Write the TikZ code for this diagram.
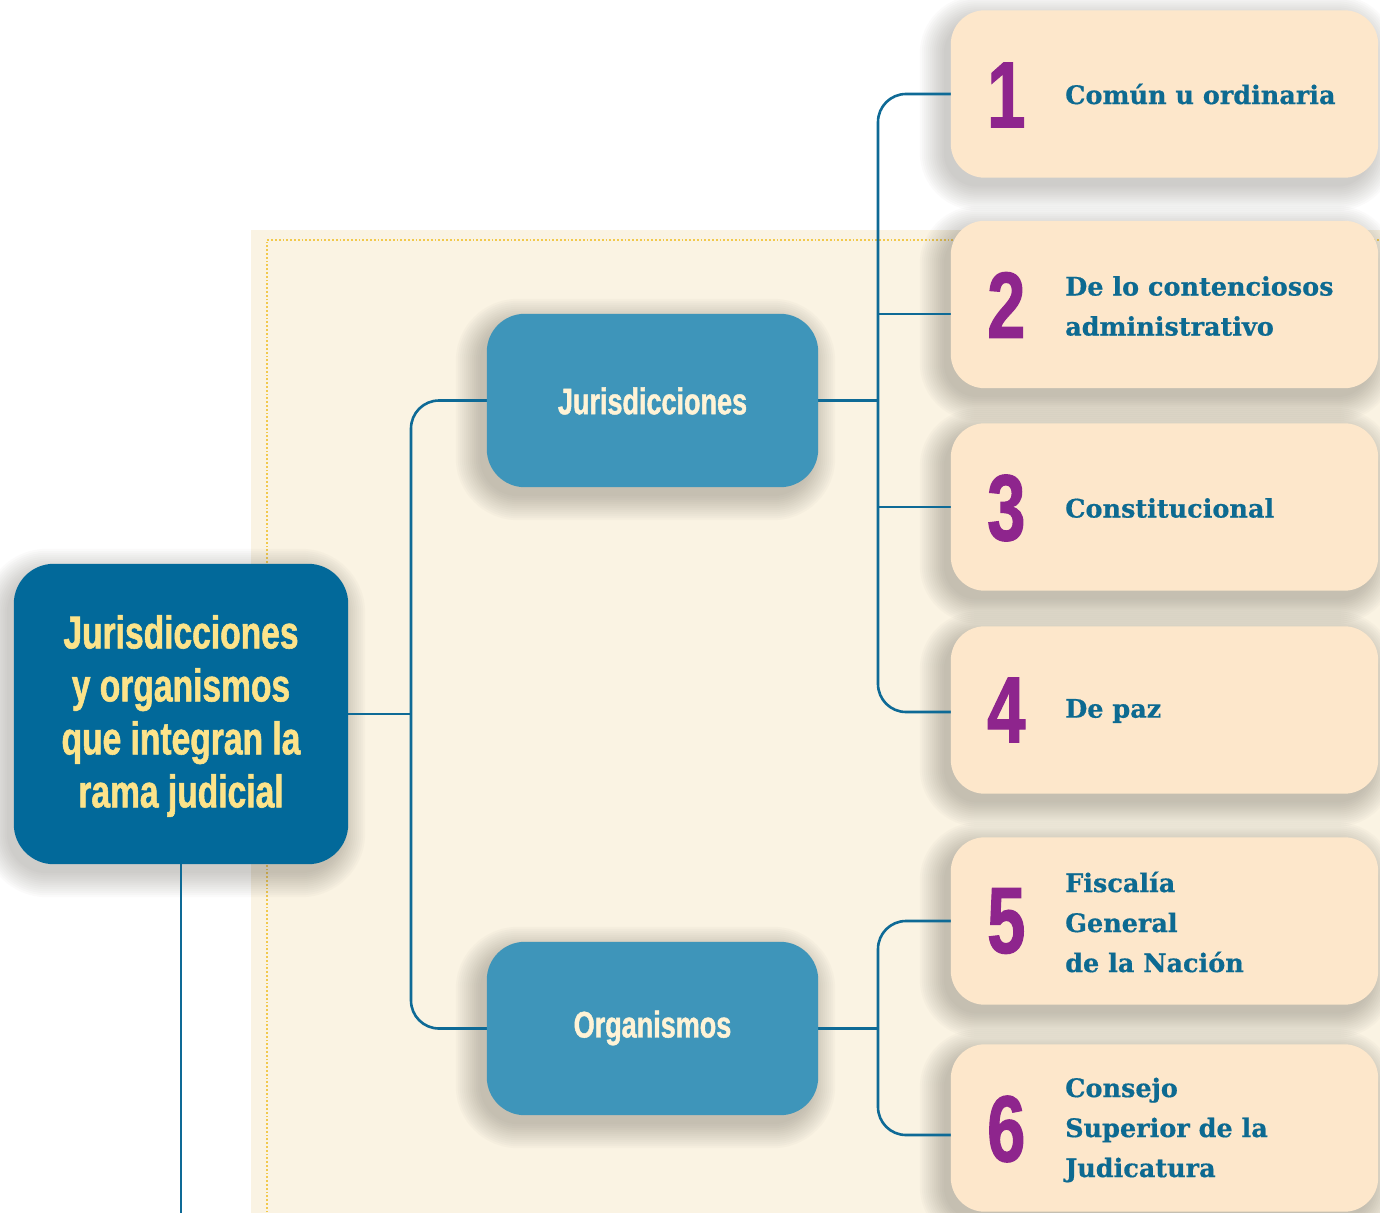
\documentclass[tikz,border=0pt]{standalone}
\usepackage{fontspec}
\usetikzlibrary{calc}
\newfontfamily\impf[FakeStretch=0.73,FakeBold=1.2]{Liberation Sans}
\newfontfamily\serf[FakeBold=0.6]{DejaVu Serif}
\definecolor{mainblue}{HTML}{02699A}
\definecolor{midblue}{HTML}{3E95BA}
\definecolor{peach}{HTML}{FDE7CB}
\definecolor{panel}{HTML}{FAF3E3}
\definecolor{linec}{HTML}{0E6A96}
\definecolor{purp}{HTML}{8E258D}
\definecolor{ytext}{HTML}{FCE38A}
\definecolor{ctext}{HTML}{FFF3D6}
\definecolor{btext}{HTML}{0D6A91}
\definecolor{dotc}{HTML}{F2C94C}
\definecolor{shadc}{HTML}{5E5A50}
\newcommand\dropshade[2]{%
  \foreach \k in {0,2,...,24}{
    \fill[shadc,opacity=0.028,rounded corners=#2+\k*1pt]
      ($(#1.south west)+(-7-\k,9+\k)$) rectangle ($(#1.north east)+(-7+\k,9-\k)$);
  }%
}
\tikzset{
  boxbase/.style={inner sep=0pt},
  mainbox/.style={boxbase,fill=mainblue,rounded corners=40pt,minimum width=334pt,minimum height=300pt},
  midbox/.style={boxbase,fill=midblue,rounded corners=38pt,minimum width=331pt,minimum height=173pt},
  itembox/.style={boxbase,fill=peach,rounded corners=34pt,minimum width=427pt,minimum height=167pt},
  numtxt/.style={anchor=west,inner sep=0pt,text=purp,font=\impf\bfseries\fontsize{94}{94}\selectfont},
  itemtxt/.style={anchor=west,inner sep=0pt,align=left,text=btext,font=\serf\bfseries\fontsize{25.5}{40}\selectfont},
  conn/.style={draw=linec,line width=2.6pt,rounded corners=28pt},
}
\begin{document}
\begin{tikzpicture}[x=1pt,y=-1pt]
\useasboundingbox (0,0) rectangle (1380,1212);
\clip (0,0) rectangle (1380,1212);
\fill[panel] (251,230) rectangle (1390,1220);
\draw[dotc,dotted,line width=1.8pt] (267,1220) -- (267,240) -- (1390,240);
% box placeholders (named, no drawing) for shadows and connectors
\path (181,714) node[mainbox,fill=none] (main) {};
\path (652.5,400.5) node[midbox,fill=none] (jur) {};
\path (652.5,1028.5) node[midbox,fill=none] (org) {};
\path (1164.5,94) node[itembox,fill=none] (b1) {};
\path (1164.5,304.5) node[itembox,fill=none] (b2) {};
\path (1164.5,507) node[itembox,fill=none] (b3) {};
\path (1164.5,710) node[itembox,fill=none] (b4) {};
\path (1164.5,921) node[itembox,fill=none] (b5) {};
\path (1164.5,1128) node[itembox,fill=none] (b6) {};
% soft shadows
\dropshade{main}{40pt}
\dropshade{jur}{38pt}
\dropshade{org}{38pt}
\foreach \b in {b1,b2,b3,b4,b5,b6}{\dropshade{\b}{34pt}}
% trunk coordinates
\coordinate (t1) at (411,714);
\coordinate (t2) at (878,400.5);
\coordinate (t3) at (878,1028.5);
\coordinate (bot) at (181,1215);
% connectors
\draw[conn] (main.east) -- (t1);
\draw[conn] (jur.west) -| (t1) |- (org.west);
\draw[conn] (main.south) -- (bot);
\draw[conn] (jur.east) -- (t2);
\draw[conn] (b1.west) -| (t2) |- ([yshift=-2pt]b4.west);
\draw[conn] ([yshift=-9.5pt]b2.west) -- ([yshift=-9.5pt]b2.west -| t2);
\draw[conn] (b3.west) -- (b3.west -| t2);
\draw[conn] (org.east) -- (t3);
\draw[conn] (b5.west) -| (t3) |- ([yshift=-7pt]b6.west);
% box faces
\fill[mainblue,rounded corners=40pt] (main.south west) rectangle (main.north east);
\fill[midblue,rounded corners=38pt] (jur.south west) rectangle (jur.north east);
\fill[midblue,rounded corners=38pt] (org.south west) rectangle (org.north east);
\foreach \b in {b1,b2,b3,b4,b5,b6}{
  \fill[peach,rounded corners=34pt] (\b.south west) rectangle (\b.north east);
}
% texts
\node[align=center,inner sep=0pt,text=ytext,font=\impf\bfseries\fontsize{46}{53}\selectfont] (maintxt) at (181,716) {Jurisdicciones\\y organismos\\que integran la\\rama judicial};
\node[inner sep=0pt,text=ctext,font=\impf\bfseries\fontsize{37}{44}\selectfont] (jurtxt) at (652.5,401) {Jurisdicciones};
\node[inner sep=0pt,text=ctext,font=\impf\bfseries\fontsize{37}{44}\selectfont] (orgtxt) at (652.5,1028) {Organismos};
\node[numtxt] (n1) at (987,95) {1};
\node[numtxt] (n2) at (987,305) {2};
\node[numtxt] (n3) at (987,508) {3};
\node[numtxt] (n4) at (987,710) {4};
\node[numtxt] (n5) at (987,921) {5};
\node[numtxt] (n6) at (987,1129) {6};
\node[itemtxt] (x1) at (1065,94) {Común u ordinaria};
\node[itemtxt] (x2) at (1065,306) {De lo contenciosos\\administrativo};
\node[itemtxt] (x3) at (1065,508) {Constitucional};
\node[itemtxt] (x4) at (1065,711) {De paz};
\node[itemtxt] (x5) at (1065,922) {Fiscalía\\General\\de la Nación};
\node[itemtxt] (x6) at (1065,1130) {Consejo\\Superior de la\\Judicatura};
\end{tikzpicture}
\end{document}
